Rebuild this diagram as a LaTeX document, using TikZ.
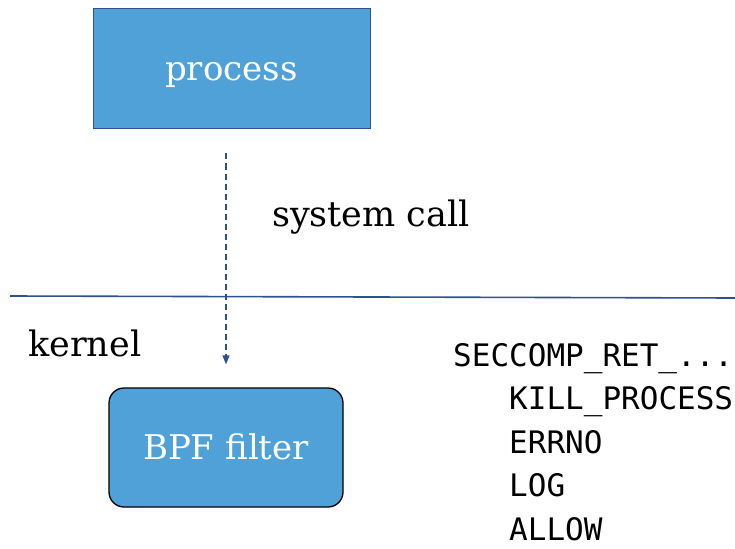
\documentclass[tikz,border=0pt]{standalone}
\usepackage{fontspec}
\setmainfont{DejaVu Serif}
\setmonofont{DejaVu Sans Mono}
\usetikzlibrary{arrows.meta}
\definecolor{boxblue}{RGB}{79,161,216}
\definecolor{darkline}{RGB}{47,82,143}
\begin{document}
\begin{tikzpicture}
      [x=1pt,y=-1pt
      ,procbox/.style={draw=darkline,fill=boxblue,line width=1pt,minimum width=277pt,minimum height=120pt,text=white,text height=30pt,text depth=7pt,font=\fontsize{34}{34}\selectfont}
      ,filterbox/.style={draw=black,fill=boxblue,line width=1.3pt,rounded corners=15pt,minimum width=234pt,minimum height=119pt,text=white,text height=30pt,text depth=7pt,font=\fontsize{34}{34}\selectfont}
      ,lbl/.style={inner sep=0pt,font=\fontsize{35}{35}\selectfont}
      ,code/.style={inner sep=0pt,font=\ttfamily\fontsize{31}{31}\selectfont}
      ,callarrow/.style={draw=darkline,line width=1.3pt,dash pattern=on 6pt off 4pt,-{Triangle[length=9pt,width=7pt]}}
      ]
        \useasboundingbox (0,0) rectangle (735,548);
        \node[procbox] (process) at (231.5,69) {process};
        \node[filterbox] (bpf) at (226,447.5) {BPF filter};

        \coordinate (kl) at (10,296);
        \coordinate (kr) at (735,298);
        \draw[darkline,line width=1.6pt] (kl) -- (kr);

        \draw[callarrow,shorten <=24pt,shorten >=23pt] (bpf.north |- process.south) -- (bpf.north);

        \node[lbl,anchor=base west] (syscall) at (272,226) {system call};
        \node[lbl,anchor=base west] (kernel) at (28,356) {kernel};

        \node[code,anchor=base west] (ret) at (453,366) {SECCOMP\_RET\_...};
        \foreach \txt [count=\i] in {KILL\_PROCESS,ERRNO,LOG,ALLOW}{
            \node[code,anchor=base west] (ret\i) at (509,366+43.5*\i) {\txt};
        }
      \end{tikzpicture}
\end{document}
